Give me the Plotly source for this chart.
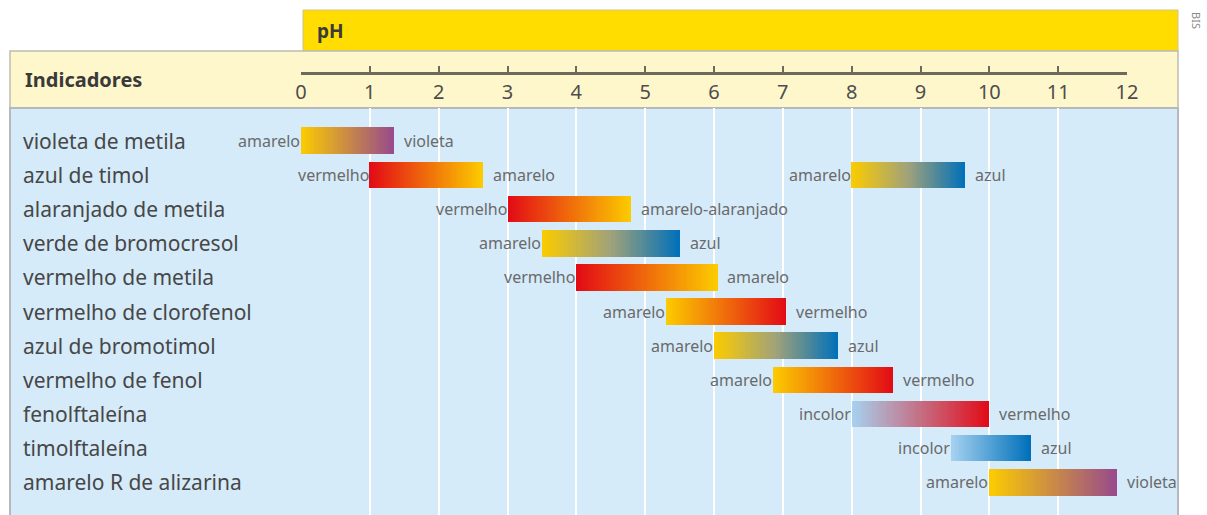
import plotly.graph_objects as go

# ---------------- data ----------------
indicators = ["violeta de metila", "azul de timol", "alaranjado de metila",
              "verde de bromocresol", "vermelho de metila", "vermelho de clorofenol",
              "azul de bromotimol", "vermelho de fenol", "fenolftaleína",
              "timolftaleína", "amarelo R de alizarina"]

# one entry per turning range: (row index, pH start, pH end, colour at start, colour at end)
range_row = [0, 1, 1, 2, 3, 4, 5, 6, 7, 8, 9, 10]
range_start = [0.0, 1.0, 8.0, 3.0, 3.5, 4.0, 5.3, 6.0, 6.85, 8.0, 9.45, 10.0]
range_end = [1.35, 2.65, 9.65, 4.8, 5.5, 6.05, 7.05, 7.8, 8.6, 10.0, 10.6, 11.85]
color_low = ["amarelo", "vermelho", "amarelo", "vermelho", "amarelo", "vermelho",
             "amarelo", "amarelo", "amarelo", "incolor", "incolor", "amarelo"]
color_high = ["violeta", "amarelo", "azul", "amarelo-alaranjado", "azul", "amarelo",
              "vermelho", "azul", "vermelho", "vermelho", "azul", "violeta"]

ph_ticks = list(range(0, 13))

# ---------------- styling ----------------
swatch = {
    "amarelo": (252, 204, 0),
    "amarelo-alaranjado": (252, 204, 0),
    "violeta": (152, 74, 140),
    "vermelho": (227, 10, 22),
    "azul": (0, 112, 186),
    "incolor": (166, 210, 240),
}
mid_override = {("amarelo", "azul"): (160, 162, 122)}

W, H = 1207, 515
X0_PX, X12_PX = 301, 1127
BODY_TOP = 108
ROW0_PX, ROW_STEP = 140.7, 34.16
FONT = "Noto Sans"


def mix(c1, c2, t):
    return tuple(a + (b - a) * t for a, b in zip(c1, c2))


def grad(lo, hi, t):
    c1, c2 = swatch[lo], swatch[hi]
    m = mid_override.get((lo, hi))
    if m is None:
        c = mix(c1, c2, t)
    elif t < 0.5:
        c = mix(c1, m, t * 2)
    else:
        c = mix(m, c2, (t - 0.5) * 2)
    return "rgb(%d,%d,%d)" % tuple(round(v) for v in c)


fig = go.Figure()

N = 60
for r, s, e, lo, hi in zip(range_row, range_start, range_end, color_low, color_high):
    step = (e - s) / N
    fig.add_trace(go.Bar(
        orientation="h",
        y=[r] * N,
        x=[step * 1.03] * N,
        base=[s + k * step for k in range(N)],
        width=0.78,
        marker=dict(color=[grad(lo, hi, (k + 0.5) / N) for k in range(N)], line=dict(width=0)),
        showlegend=False, hoverinfo="skip",
    ))
    fig.add_annotation(x=s, y=r, xref="x", yref="y", text=lo, showarrow=False,
                       xanchor="right", xshift=1, yanchor="middle",
                       font=dict(family=FONT, size=16, color="#6a6a6a"))
    fig.add_annotation(x=e, y=r, xref="x", yref="y", text=hi, showarrow=False,
                       xanchor="left", xshift=8, yanchor="middle",
                       font=dict(family=FONT, size=16, color="#6a6a6a"))

for i, name in enumerate(indicators):
    fig.add_annotation(x=21 / W, y=i, xref="paper", yref="y", text=name, showarrow=False,
                       xanchor="left", yanchor="middle",
                       font=dict(family=FONT, size=21, color="#474747"))

# background panels
shapes = [
    dict(type="rect", xref="paper", yref="paper", layer="below",
         x0=303 / W, x1=1178 / W, y0=1 - 51 / H, y1=1 - 10 / H,
         fillcolor="#FFDD00", line=dict(color="#cfc48a", width=1)),
    dict(type="rect", xref="paper", yref="paper", layer="below",
         x0=10 / W, x1=1178 / W, y0=1 - BODY_TOP / H, y1=1 - 51 / H,
         fillcolor="#FFF7CC", line=dict(color="#bdbdb0", width=1.5)),
    dict(type="rect", xref="paper", yref="paper", layer="below",
         x0=10 / W, x1=1178 / W, y0=-0.05, y1=1 - BODY_TOP / H,
         fillcolor="#D5EBFA", line=dict(color="#b5b9bd", width=2)),
]
fig.update_layout(shapes=shapes)

fig.add_annotation(x=315 / W, y=1 - 31 / H, xref="paper", yref="paper", text="<b>pH</b>",
                   showarrow=False, xanchor="left", yanchor="middle",
                   font=dict(family=FONT, size=19, color="#3a3a3a"))
fig.add_annotation(x=23 / W, y=1 - 80 / H, xref="paper", yref="paper", text="<b>Indicadores</b>",
                   showarrow=False, xanchor="left", yanchor="middle",
                   font=dict(family=FONT, size=20, color="#3a3a3a"))
fig.add_annotation(x=1196 / W, y=1 - 20 / H, xref="paper", yref="paper", text="BIS",
                   showarrow=False, textangle=90, xanchor="center", yanchor="middle",
                   font=dict(family=FONT, size=11, color="#8a8a8a"))

y_top = (BODY_TOP - ROW0_PX) / ROW_STEP
y_bot = (H - ROW0_PX) / ROW_STEP

fig.update_layout(
    width=W, height=H, autosize=False,
    margin=dict(l=0, r=0, t=0, b=0, pad=0, autoexpand=False),
    paper_bgcolor="white", plot_bgcolor="rgba(0,0,0,0)",
    barmode="overlay", bargap=0,
    xaxis=dict(domain=[X0_PX / W, X12_PX / W], range=[0, 12], automargin=False,
               anchor="free", position=1 - 73 / H, side="bottom",
               showgrid=True, gridcolor="white", gridwidth=2,
               showline=True, linecolor="#6b6a5c", linewidth=2.5,
               ticks="inside", ticklen=6, tickwidth=2, tickcolor="#6b6a5c",
               tickvals=ph_ticks, ticktext=[str(t) for t in ph_ticks],
               tickfont=dict(family=FONT, size=20, color="#4d4d4d"),
               zeroline=False),
    yaxis=dict(domain=[0, 1 - BODY_TOP / H], range=[y_bot, y_top], automargin=False,
               showgrid=False, zeroline=False, showticklabels=False, showline=False),
)

page_css = ("document.body.style.margin='0';"
            "document.body.style.overflow='hidden';"
            "document.documentElement.style.overflow='hidden';")
fig.write_html("out.html", config={"responsive": False, "displayModeBar": False},
               post_script=page_css)
